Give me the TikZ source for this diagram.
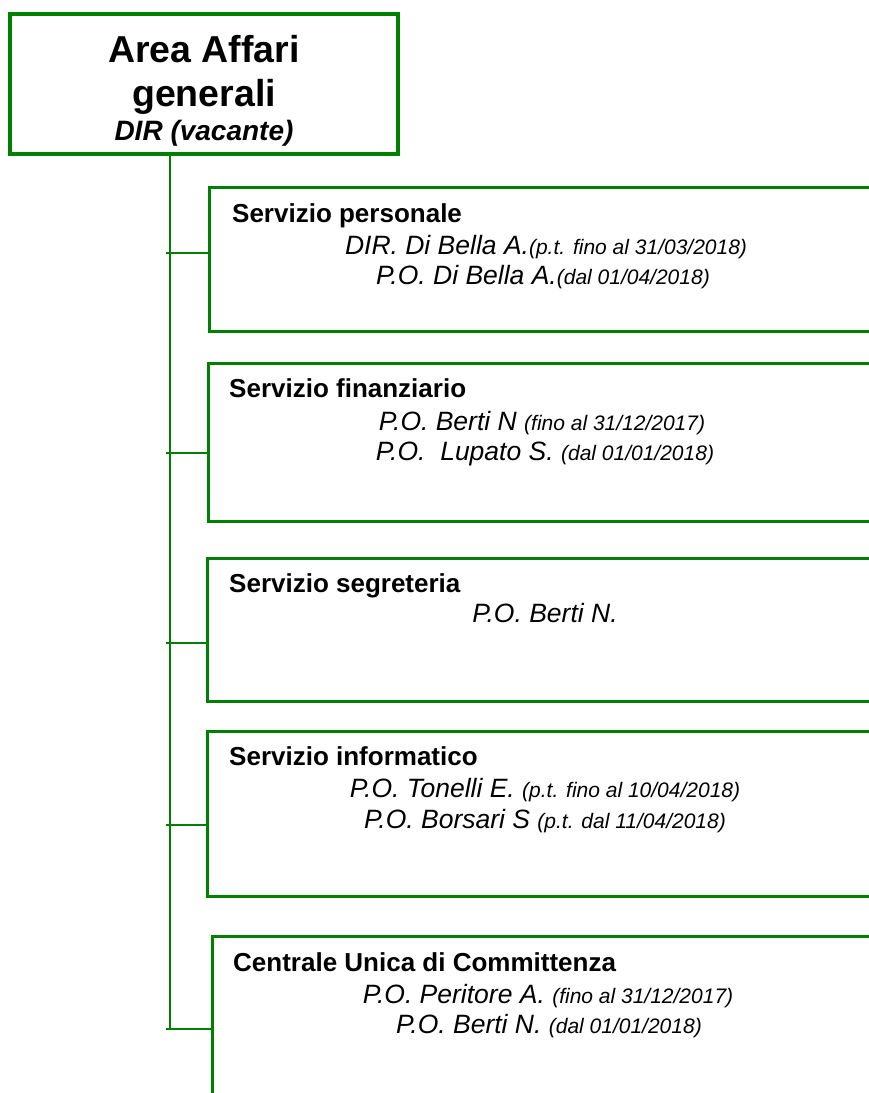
\documentclass[tikz,border=0pt]{standalone}
\usepackage{fontspec}
\setmainfont{Liberation Sans}
\definecolor{og}{RGB}{0,128,0}
\tikzset{
  box/.style={draw=og, line width=3pt, anchor=north west, minimum width=720pt, inner sep=0pt},
  conn/.style={draw=og, line width=2pt},
  head/.style={anchor=base west, inner sep=0pt, font=\fontsize{26}{30}\selectfont\bfseries},
  who/.style={anchor=base, inner sep=0pt, font=\fontsize{26.5}{30}\selectfont\itshape},
  ttl/.style={anchor=base, inner sep=0pt, font=\fontsize{37.5}{42}\selectfont\bfseries},
}
\newcommand{\sm}[1]{{\fontsize{21}{23}\selectfont #1}}
\begin{document}
\begin{tikzpicture}[x=1pt,y=-1pt]
\useasboundingbox (0,0) rectangle (869,1093);
\clip (0,0) rectangle (869,1093);
% top box
\node[draw=og, line width=4.5pt, minimum width=388pt, minimum height=140pt, inner sep=0pt] (top) at (204,84) {};
\node[ttl] (t1) at (204,62) {Area Affari};
\node[ttl] (t2) at (204,106) {generali};
\node[anchor=base, inner sep=0pt, font=\fontsize{28}{32}\selectfont\bfseries\itshape] (t3) at (204,140) {DIR (vacante)};
% service boxes
\node[box, minimum height=144pt] (b1) at (208,186) {};
\node[box, minimum height=158pt] (b2) at (207,362) {};
\node[box, minimum height=143pt] (b3) at (206,557) {};
\node[box, minimum height=165pt] (b4) at (206,730) {};
\node[box, minimum height=200pt] (b5) at (211,935) {};
% trunk and ticks
\coordinate (trunk) at (170,1029);
\draw[conn] (top.south -| trunk) -- (trunk);
\coordinate (k1) at (166,253);
\coordinate (k2) at (166,453);
\coordinate (k3) at (166,643);
\coordinate (k4) at (166,825);
\coordinate (k5) at (166,1029);
\draw[conn] (k1) -- (k1 -| b1.west);
\draw[conn] (k2) -- (k2 -| b2.west);
\draw[conn] (k3) -- (k3 -| b3.west);
\draw[conn] (k4) -- (k4 -| b4.west);
\draw[conn] (k5) -- (k5 -| b5.west);
% texts
\node[head] (h1) at (232,222) {Servizio personale};
\node[who] (p1a) at (546,254) {DIR. Di Bella A.\sm{(p.t. fino al 31/03/2018)}};
\node[who] (p1b) at (543,284) {P.O. Di Bella A.\sm{(dal 01/04/2018)}};
\node[head] (h2) at (229,397) {Servizio finanziario};
\node[who] (p2a) at (542,430) {P.O. Berti N \sm{(fino al 31/12/2017)}};
\node[who] (p2b) at (545,460) {P.O.\ \ Lupato S. \sm{(dal 01/01/2018)}};
\node[head] (h3) at (229,592) {Servizio segreteria};
\node[who] (p3a) at (545,622) {P.O. Berti N.};
\node[head] (h4) at (229,765) {Servizio informatico};
\node[who] (p4a) at (545,797) {P.O. Tonelli E. \sm{(p.t. fino al 10/04/2018)}};
\node[who] (p4b) at (545,828) {P.O. Borsari S \sm{(p.t. dal 11/04/2018)}};
\node[head] (h5) at (233,971) {Centrale Unica di Committenza};
\node[who] (p5a) at (548,1003) {P.O. Peritore A. \sm{(fino al 31/12/2017)}};
\node[who] (p5b) at (549,1033) {P.O. Berti N. \sm{(dal 01/01/2018)}};
\end{tikzpicture}
\end{document}
